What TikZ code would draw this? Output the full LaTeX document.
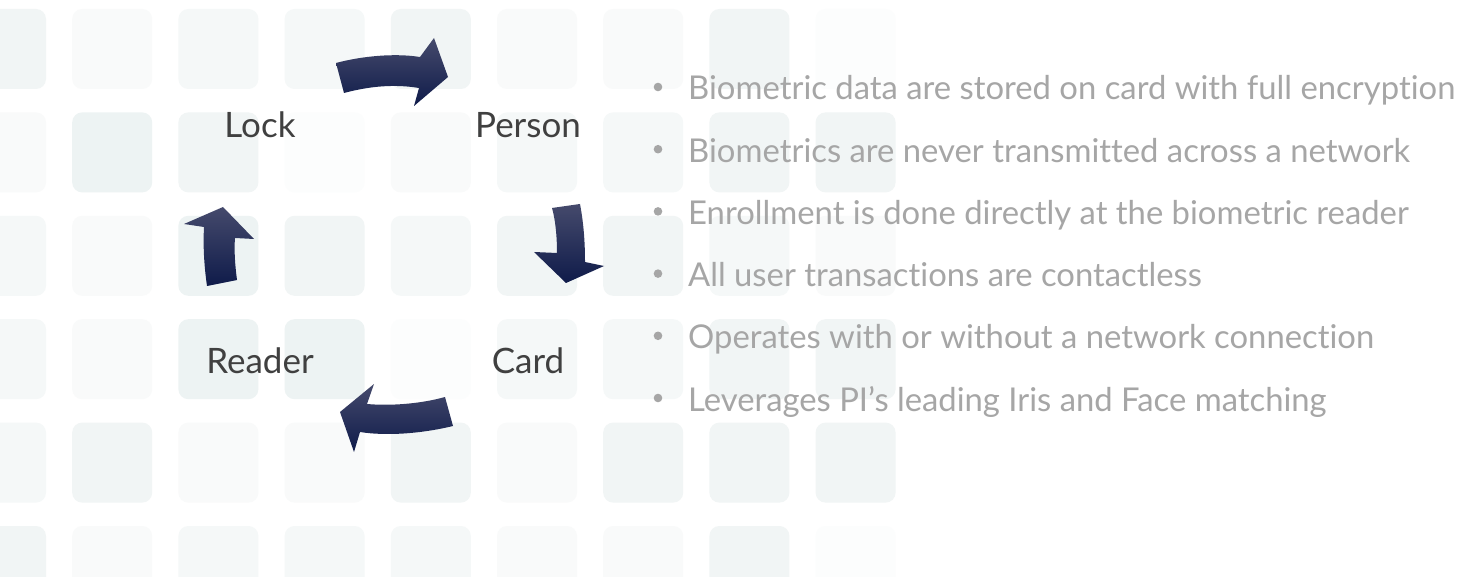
\documentclass[tikz,border=0pt]{standalone}
\usepackage{fontspec}
\setmainfont{Lato}[Ligatures=NoCommon]
\definecolor{tilea}{HTML}{EDF3F3}
\definecolor{tileb}{HTML}{F1F5F5}
\definecolor{tilec}{HTML}{F5F8F8}
\definecolor{tiled}{HTML}{F9FAFA}
\definecolor{tilee}{HTML}{FCFDFD}
\definecolor{labelgray}{HTML}{404040}
\definecolor{itemgray}{HTML}{A6A6A6}
\definecolor{navytop}{HTML}{454A6C}
\definecolor{navy}{HTML}{0F1B4A}

\begin{document}
\begin{tikzpicture}[x=1pt,y=-1pt]
  \tikzset{stage/.style={text=labelgray,font=\fontsize{35}{40}\selectfont,anchor=base,inner sep=0pt},
           item/.style={text=itemgray,font=\fontsize{32.8}{36}\selectfont,anchor=base west,inner sep=0pt},
           turn/.style={top color=navytop,middle color=navy,bottom color=navy}}
  \useasboundingbox[fill=white] (0,0) rectangle (1464,577);
  % background tiles
  \foreach \shades [count=\r from 0] in {{b,d,c,c,b,d,d,b,e},{d,a,b,e,d,c,c,b,b},{c,d,a,b,c,b,b,c,d},
                                          {c,d,a,a,e,c,c,b,b},{c,b,d,d,b,d,b,b,b},{b,d,c,c,c,d,d,b,e}}
    \foreach \s [count=\c from 0] in \shades
      \fill[tile\s,rounded corners=10pt] ({-34+106.2*\c},{9+103.4*\r}) rectangle ++(80,80);
  % cycle
  \node[stage] (lock) at (260,138) {Lock};
  \node[stage] (person) at (528,138) {Person};
  \node[stage] (card) at (528,373) {Card};
  \node[stage] (reader) at (260,373) {Reader};
  \shade[turn] (336,63) .. controls (362,56) and (395,53) .. (420,57) -- (434,38) -- (448,77)
    -- (414,106) -- (419,88) .. controls (395,84) and (370,86) .. (344,93) -- cycle;
  \shade[turn] (552,208) -- (580,204) .. controls (584,225) and (585,245) .. (585,262) -- (604,266)
    -- (566,283) -- (534,252) -- (557,253) .. controls (557,240) and (556,222) .. (552,208) -- cycle;
  \shade[turn] (445,397) .. controls (420,404) and (390,406) .. (367,404) -- (374,384) -- (340,412)
    -- (354,452) -- (360,432) .. controls (385,436) and (420,434) .. (453,426) -- cycle;
  \shade[turn] (207,286) -- (237,280) .. controls (235,265) and (234,250) .. (235,238) -- (254,239)
    -- (223,207) -- (184,224) -- (204,227) .. controls (203,245) and (204,265) .. (207,286) -- cycle;
  % features
  \foreach \txt [count=\i from 0] in {Biometric data are stored on card with full encryption,
      Biometrics are never transmitted across a network,
      Enrollment is done directly at the biometric reader,
      All user transactions are contactless,
      Operates with or without a network connection,
      Leverages PI’s leading Iris and Face matching} {
    \node[item] (item\i) at (688,{100+62.2*\i}) {\txt};
    \fill[itemgray] (item\i.base west) ++(-30,-13) circle (4.3);
  }
\end{tikzpicture}
\end{document}
